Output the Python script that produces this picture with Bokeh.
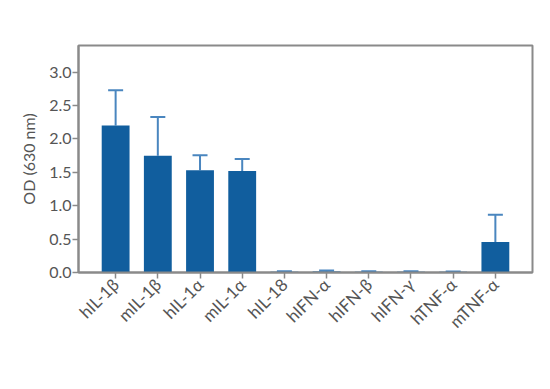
from bokeh.plotting import figure
from bokeh.models import FactorRange, Range1d, FixedTicker, ColumnDataSource, Whisker, TeeHead
from bokeh.embed import file_html
from bokeh.resources import INLINE
import math

categories = ["hIL-1β", "mIL-1β", "hIL-1α", "mIL-1α", "hIL-18",
              "hIFN-α", "hIFN-β", "hIFN-γ", "hTNF-α", "mTNF-α"]
od_values = [2.20, 1.75, 1.53, 1.52, 0.01, 0.015, 0.01, 0.01, 0.01, 0.455]
od_upper = [2.73, 2.33, 1.755, 1.70, 0.02, 0.03, 0.02, 0.02, 0.015, 0.865]
y_ticks = [0.0, 0.5, 1.0, 1.5, 2.0, 2.5, 3.0]

src = ColumnDataSource(dict(x=categories, top=od_values, upper=od_upper))

p = figure(width=542, height=381, output_backend="svg", toolbar_location=None,
           x_range=FactorRange(factors=categories, range_padding=0.38,
                               range_padding_units="absolute"),
           y_range=Range1d(0, 3.4),
           min_border_left=78, min_border_right=10, min_border_top=45,
           min_border_bottom=109)

p.vbar(x="x", top="top", width=0.66, source=src, color="#115e9e", line_color=None)

w = Whisker(base="x", upper="upper", lower="top", source=src,
            line_color="#4a86bf", line_width=2,
            upper_head=TeeHead(size=15, line_color="#4a86bf", line_width=2),
            lower_head=None)
p.add_layout(w)

p.xgrid.grid_line_color = None
p.ygrid.grid_line_color = None
p.outline_line_color = "#8a8a8a"
p.outline_line_width = 2

for ax in (p.xaxis[0], p.yaxis[0]):
    ax.axis_line_color = "#8a8a8a"
    ax.axis_line_width = 2
    ax.major_tick_line_color = "#8a8a8a"
    ax.major_tick_line_width = 1.5
    ax.major_tick_out = 6
    ax.major_tick_in = 0
    ax.minor_tick_line_color = None
    ax.major_label_text_font = "Lato"
    ax.major_label_text_color = "#555555"

p.yaxis.major_label_text_font_size = "16px"
p.yaxis.ticker = FixedTicker(ticks=y_ticks)
p.yaxis.major_label_overrides = {t: f"{t:.1f}" for t in y_ticks}
p.yaxis.major_label_standoff = 1
p.yaxis.axis_label = "OD (630 nm)"
p.yaxis.axis_label_text_font = "Lato"
p.yaxis.axis_label_text_font_style = "normal"
p.yaxis.axis_label_text_font_size = "16px"
p.yaxis.axis_label_text_color = "#555555"
p.yaxis.axis_label_standoff = 8

p.xaxis.major_label_text_font_size = "17px"
p.xaxis.major_label_orientation = math.pi / 4
p.xaxis.major_label_standoff = 3

open("out.html", "w").write(file_html(p, INLINE))
